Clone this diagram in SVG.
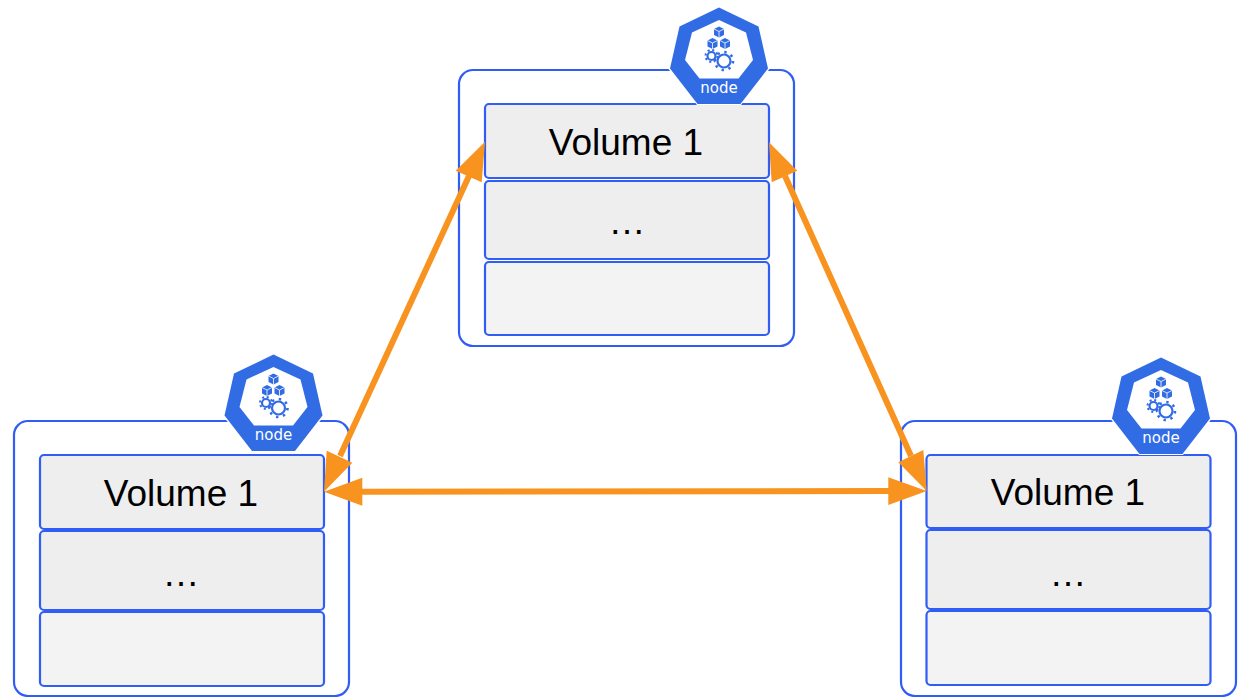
<svg xmlns="http://www.w3.org/2000/svg" width="1240" height="697" viewBox="0 0 1240 697">
<style>
.outer{fill:#fff;stroke:#2f5df5;stroke-width:2.2}
.a{fill:#eeeeee;stroke:#2f5df5;stroke-width:2.2}
.b{fill:#f3f3f3;stroke:#2f5df5;stroke-width:2.2}
.t{font-family:"Liberation Sans",Arial,sans-serif;font-size:37px;fill:#000;text-anchor:middle}
.n{font-family:"DejaVu Sans",sans-serif;font-size:15px;fill:#fff;text-anchor:middle}
.line{stroke:#f7931e;stroke-width:6;fill:none}
.head{fill:#f7931e}
.cube{fill:#326ce5}
.gear{fill:none;stroke:#326ce5}
</style>
<defs>
<g id="cube"><polygon class="cube" points="0,-5.500 5,-3 5,3 0,5.500 -5,3 -5,-3"/><path d="M-5,-3 L0,-0.500 L5,-3 M0,-0.500 V5.500" fill="none" stroke="#fff" stroke-width=".8"/></g>
<g id="badge">
<polygon points="0,0 40.500,19.500 50.500,63 22,99 -22,99 -50.500,63 -40.500,19.500" fill="#fff"/>
<polygon points="0,1.500 39.500,20.500 49,62.500 21.500,98 -21.500,98 -49,62.500 -39.500,20.500" fill="#326ce5"/>
<polygon points="0,14 27,26.500 34,54 19.500,72.500 -19.500,72.500 -34,54 -27,26.500" fill="#fff"/>
<use href="#cube" x="0" y="26"/>
<use href="#cube" x="-6.500" y="37.500"/>
<use href="#cube" x="6" y="37.500"/>
<circle class="gear" cx="-7.500" cy="50" r="4" stroke-width="2.200"/>
<circle class="gear" cx="-7.500" cy="50" r="6" stroke-width="2" stroke-dasharray="2.100 2.613"/>
<circle class="gear" cx="5" cy="55" r="6.500" stroke-width="2.200"/>
<circle class="gear" cx="5" cy="55" r="9" stroke-width="2.600" stroke-dasharray="2.400 4.669"/>
<text class="n" x="0" y="87">node</text>
</g>
</defs>
<g id="node-top">
<rect class="outer" x="459" y="70" width="335" height="276" rx="14"/>
<rect class="a" x="485" y="104" width="284" height="74" rx="4"/>
<rect class="a" x="485" y="181" width="284" height="78" rx="4"/>
<rect class="b" x="485" y="262" width="284" height="73" rx="4"/>
<text class="t" x="626" y="155">Volume 1</text>
<text class="t" x="627" y="234">…</text>
<use href="#badge" x="719" y="6"/>
</g>
<g id="node-left">
<rect class="outer" x="14" y="421" width="335" height="275" rx="14"/>
<rect class="a" x="40" y="455" width="284" height="74" rx="4"/>
<rect class="a" x="40" y="531" width="284" height="79" rx="4"/>
<rect class="b" x="40" y="612" width="284" height="74" rx="4"/>
<text class="t" x="181" y="506">Volume 1</text>
<text class="t" x="181" y="586">…</text>
<use href="#badge" x="273.500" y="353"/>
</g>
<g id="node-right">
<rect class="outer" x="901" y="421" width="335" height="275" rx="14"/>
<rect class="a" x="926.500" y="455" width="284" height="73" rx="4"/>
<rect class="a" x="926.500" y="530" width="284" height="79" rx="4"/>
<rect class="b" x="926.500" y="611" width="284" height="74" rx="4"/>
<text class="t" x="1068" y="505">Volume 1</text>
<text class="t" x="1068" y="586">…</text>
<use href="#badge" x="1161" y="356"/>
</g>
<g id="connectors">
<line class="line" x1="340" y1="456" x2="469" y2="176"/>
<polygon class="head" points="324,491.700 326.700,450.700 352.300,462.700"/>
<polygon class="head" points="485,141.700 455.700,170.700 481.700,182.300"/>
<line class="line" x1="785" y1="176" x2="911" y2="456"/>
<polygon class="head" points="769,142.300 797.300,170.700 771.700,182.300"/>
<polygon class="head" points="926.700,491 923.300,450 898.300,462.300"/>
<line class="line" x1="360" y1="491.700" x2="890" y2="491"/>
<polygon class="head" points="324,491.700 362.300,477.700 362.300,505.700"/>
<polygon class="head" points="926.700,491 888.300,477.300 888.300,505"/>
</g>
</svg>
